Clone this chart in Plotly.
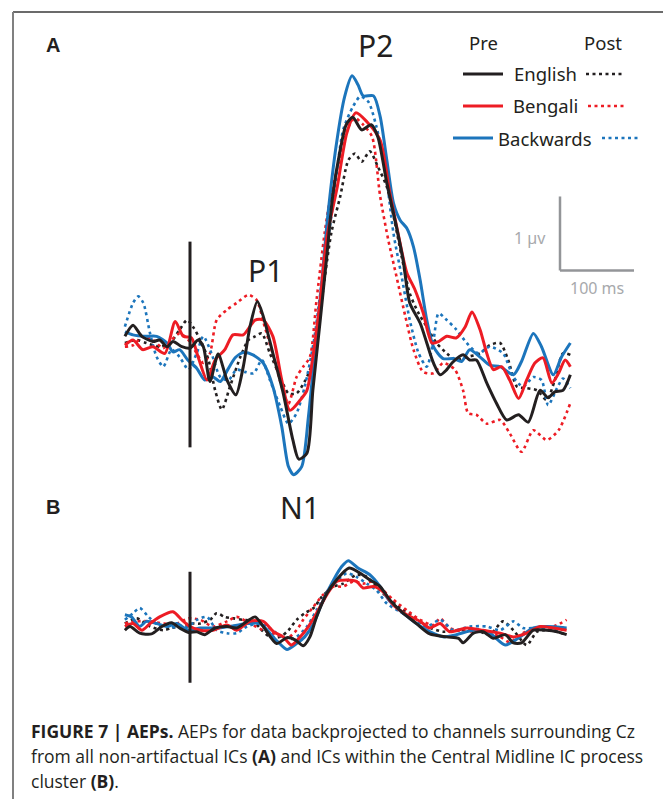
import plotly.graph_objects as go

# ---------------- DATA (time in ms, amplitude in microvolts) ----------------
# Panel A : all non-artifactual ICs
en_pre_a_t = [-88,-77,-65,-50,-41,-31,-23,-11,0,11,18,27,38,50,62,72,81,91,99,112,126,139,147,158,166,176,185,193,203,211,220,232,245,254,266,279,288,297,311,320,329,338,347,355,369,378,387,401,414,428,444,457,473,484,493,504,514]
en_pre_a_v = [0.09,0.24,0.09,0.02,0.04,-0.05,0.02,-0.05,-0.07,0.04,-0.05,-0.52,-0.15,-0.50,-0.70,-0.32,0.22,0.56,0.36,-0.14,-0.68,-1.31,-1.57,-1.49,-0.64,0.31,1.19,2.00,2.61,2.95,3.05,2.88,2.95,2.78,2.16,1.57,1.12,0.54,0.27,0.00,-0.27,-0.43,-0.36,-0.26,-0.16,-0.23,-0.23,-0.54,-0.81,-1.04,-0.97,-1.07,-0.64,-0.74,-0.66,-0.64,-0.43]

bn_pre_a_t = [-88,-77,-64,-50,-34,-20,-9,2,11,23,34,47,58,72,88,99,112,124,135,149,158,166,176,185,199,212,224,239,257,270,281,293,304,315,327,336,347,360,372,381,392,401,410,421,432,444,455,466,477,489,498,507,514]
bn_pre_a_v = [-0.03,0.04,-0.09,-0.05,-0.14,0.29,0.09,0.07,-0.19,-0.50,-0.23,-0.09,0.11,0.11,0.31,0.31,0.09,-0.50,-0.91,-0.77,-0.64,-0.19,0.58,1.43,2.11,2.84,3.11,2.99,2.74,2.03,1.49,0.95,0.72,0.41,0.00,0.02,0.09,0.07,0.22,0.42,0.18,-0.14,-0.36,-0.32,-0.50,-0.75,-0.50,-0.27,-0.20,-0.54,-0.41,-0.23,-0.32]

bw_pre_a_t = [-88,-77,-61,-45,-31,-23,-14,-3,9,20,31,41,51,61,72,85,99,112,124,133,140,151,160,169,178,186,198,209,219,227,234,248,257,266,275,284,293,302,311,320,329,342,356,367,378,392,405,419,437,448,464,475,491,502,514]
bw_pre_a_v = [0.15,0.11,0.09,0.09,0.00,-0.12,-0.09,-0.23,-0.34,-0.50,-0.46,-0.52,-0.36,-0.20,-0.13,-0.16,-0.27,-0.59,-1.13,-1.67,-1.78,-1.67,-1.00,-0.09,0.81,1.70,2.70,3.33,3.61,3.49,3.34,3.34,3.06,2.47,1.89,1.66,1.55,1.30,0.85,0.31,-0.05,-0.21,-0.21,-0.25,-0.09,-0.19,-0.30,-0.32,-0.43,-0.25,0.13,-0.05,-0.43,-0.19,0.00]

en_post_a_t = [-88,-72,-59,-41,-27,-14,-4,4,14,25,34,43,54,68,79,88,97,108,122,133,144,155,167,178,191,203,214,223,232,243,254,266,277,286,297,309,320,333,347,360,374,392,405,419,430,442,455,469,482,493,504,514]
en_post_a_v = [0.00,0.04,0.00,-0.05,0.00,0.18,0.31,0.22,0.04,-0.23,-0.64,-0.90,-0.59,-0.19,0.04,0.09,0.13,-0.14,-0.46,-0.68,-0.68,-0.52,-0.23,0.58,1.49,1.98,2.47,2.56,2.45,2.59,2.38,2.11,1.62,1.17,0.67,0.40,0.22,0.00,-0.14,-0.23,-0.19,-0.14,-0.03,0.00,-0.23,-0.59,-0.61,-0.64,-0.77,-0.50,-0.14,-0.16]

bn_post_a_t = [-88,-77,-63,-50,-36,-25,-14,-2,9,18,27,36,50,63,79,90,101,113,124,133,144,153,162,171,182,189,203,214,223,234,246,257,268,279,291,302,315,329,342,358,369,376,387,401,419,432,448,464,482,498,514]
bn_post_a_v = [-0.05,-0.03,0.09,0.04,-0.07,0.04,0.13,0.04,-0.14,-0.27,-0.14,0.31,0.45,0.54,0.65,0.58,0.22,-0.19,-0.59,-0.82,-0.46,-0.32,-0.19,0.58,1.49,1.93,2.52,2.92,3.04,2.95,2.79,1.98,1.39,0.90,0.36,-0.09,-0.39,-0.41,-0.27,-0.36,-0.64,-0.95,-0.97,-1.09,-1.04,-1.22,-1.47,-1.18,-1.31,-1.18,-0.81]

bw_post_a_t = [-88,-77,-70,-63,-54,-45,-36,-25,-14,-2,9,18,29,41,52,63,74,86,97,108,122,133,144,155,167,178,191,207,220,230,241,252,264,275,286,297,309,320,329,336,347,360,374,390,405,423,437,450,464,475,484,496,504,514]
bw_post_a_v = [0.22,0.54,0.63,0.54,0.13,-0.19,-0.32,-0.09,-0.19,-0.36,-0.14,0.09,-0.14,-0.46,-0.50,-0.36,-0.39,-0.41,-0.23,-0.50,-0.86,-1.09,-0.95,-0.59,0.00,0.81,1.71,2.88,3.19,3.33,3.26,2.92,2.34,1.48,0.90,0.31,-0.14,-0.32,0.04,0.40,0.31,0.18,0.00,-0.14,-0.05,-0.14,-0.46,-0.59,-0.46,-0.50,-0.84,-0.61,-0.48,-0.61]

# Panel B : Central Midline IC process cluster
en_pre_b_t = [-88,-81,-68,-52,-38,-25,-14,-2,9,20,34,50,63,77,88,99,117,131,142,153,162,171,185,198,215,230,243,257,270,288,306,324,347,363,369,383,396,410,426,437,448,464,482,496,509]
en_pre_b_v = [-0.03,0.02,-0.07,-0.08,0.02,0.07,0.00,-0.06,-0.05,-0.09,0.00,0.02,0.00,0.09,0.15,0.02,-0.21,-0.13,-0.16,-0.24,-0.12,0.15,0.47,0.65,0.81,0.74,0.65,0.56,0.38,0.20,0.06,-0.08,-0.12,-0.14,-0.20,-0.07,-0.05,-0.14,-0.09,-0.20,-0.20,-0.03,-0.03,-0.05,-0.09]

bn_pre_b_t = [-88,-77,-65,-54,-41,-23,-11,0,14,31,50,63,81,99,113,126,137,149,160,171,185,198,212,225,234,248,261,275,293,311,324,338,351,374,396,419,437,455,473,491,509]
bn_pre_b_v = [0.02,0.06,-0.03,0.06,0.15,0.22,0.11,0.02,-0.03,-0.03,0.04,-0.03,0.09,0.09,-0.05,-0.12,-0.23,-0.12,0.02,0.20,0.45,0.63,0.65,0.63,0.54,0.56,0.49,0.31,0.18,0.09,0.00,0.06,-0.05,0.00,-0.03,-0.07,-0.12,-0.07,0.02,0.00,-0.03]

bw_pre_b_t = [-88,-79,-68,-59,-45,-31,-18,-2,14,36,59,77,95,108,119,131,144,155,167,178,194,205,214,227,243,257,270,288,306,324,342,360,383,405,426,446,464,482,509]
bw_pre_b_v = [0.18,0.15,0.02,0.09,0.06,0.02,0.06,-0.03,0.00,0.00,0.03,0.06,0.06,-0.07,-0.19,-0.29,-0.21,-0.12,0.06,0.33,0.65,0.83,0.91,0.81,0.72,0.56,0.36,0.20,0.06,-0.05,-0.12,-0.09,-0.03,-0.07,-0.23,-0.12,0.00,0.02,0.00]

en_post_b_t = [-88,-72,-54,-36,-25,-14,0,14,27,36,47,59,72,86,97,108,122,133,144,155,167,178,194,207,225,239,252,266,284,302,320,342,365,387,405,423,437,455,469,486,509]
en_post_b_v = [0.06,0.13,0.02,-0.03,0.00,0.02,0.06,0.06,0.11,0.20,0.15,0.13,0.11,0.09,-0.03,-0.12,-0.12,-0.03,0.11,0.20,0.27,0.42,0.56,0.60,0.72,0.69,0.56,0.42,0.27,0.15,0.02,-0.05,-0.03,-0.03,-0.09,0.09,-0.03,-0.23,-0.05,-0.03,-0.09]

bn_post_b_t = [-88,-72,-54,-36,-18,-2,14,31,50,63,81,99,117,131,144,153,167,180,194,207,221,234,248,261,275,293,311,329,338,351,374,396,419,432,450,469,491,509]
bn_post_b_v = [0.06,0.09,0.09,0.06,0.06,0.13,0.11,0.02,0.09,0.15,0.06,-0.03,-0.09,-0.14,-0.03,0.11,0.29,0.45,0.56,0.56,0.63,0.60,0.63,0.51,0.38,0.24,0.11,0.04,0.13,0.00,-0.05,-0.03,-0.12,-0.19,-0.07,0.00,0.02,0.11]

bw_post_b_t = [-88,-77,-68,-56,-43,-27,-14,-2,9,23,36,50,63,77,90,104,117,131,144,158,171,185,198,212,225,239,252,266,284,302,320,338,356,378,401,419,437,450,469,486,509]
bw_post_b_v = [0.11,0.20,0.27,0.15,0.04,0.02,0.00,0.02,0.11,0.15,-0.03,-0.07,-0.07,0.02,0.06,0.02,-0.07,-0.16,-0.12,0.02,0.24,0.47,0.63,0.74,0.69,0.60,0.51,0.33,0.22,0.11,0.02,0.11,-0.03,0.02,0.02,-0.03,0.09,0.00,0.00,-0.03,0.02]

conditions = ["English", "Bengali", "Backwards"]
colors = {"English": "#231f20", "Bengali": "#ed1c24", "Backwards": "#1c75bc"}

panel_a = {
    ("English", "pre"): (en_pre_a_t, en_pre_a_v),
    ("Bengali", "pre"): (bn_pre_a_t, bn_pre_a_v),
    ("Backwards", "pre"): (bw_pre_a_t, bw_pre_a_v),
    ("English", "post"): (en_post_a_t, en_post_a_v),
    ("Bengali", "post"): (bn_post_a_t, bn_post_a_v),
    ("Backwards", "post"): (bw_post_a_t, bw_post_a_v),
}
panel_b = {
    ("English", "pre"): (en_pre_b_t, en_pre_b_v),
    ("Bengali", "pre"): (bn_pre_b_t, bn_pre_b_v),
    ("Backwards", "pre"): (bw_pre_b_t, bw_pre_b_v),
    ("English", "post"): (en_post_b_t, en_post_b_v),
    ("Bengali", "post"): (bn_post_b_t, bn_post_b_v),
    ("Backwards", "post"): (bw_post_b_t, bw_post_b_v),
}

# Scale bar values (data units)
scale_ms = 100
scale_uv = 1

# page has an 8px body margin: the figure occupies 663x791 starting at (8, 8)
OFF = 8
W, H = 671 - OFF, 799 - OFF
def px(x): return (x - OFF) / W
def py(y): return 1 - (y - OFF) / H

fig = go.Figure()

draw_order = [("English", "post"), ("Bengali", "post"), ("Backwards", "post"),
              ("Backwards", "pre"), ("Bengali", "pre"), ("English", "pre")]

for panel, yax in ((panel_a, "y"), (panel_b, "y2")):
    for key in draw_order:
        cond, phase = key
        t, v = panel[key]
        fig.add_trace(go.Scatter(
            x=t, y=v, mode="lines", yaxis=yax, showlegend=False,
            line=dict(color=colors[cond], width=3 if phase == "pre" else 2.6,
                      dash="solid" if phase == "pre" else "3px,3.5px",
                      shape="spline", smoothing=0.7),
            hoverinfo="skip"))

# Stimulus onset lines
fig.add_shape(type="line", xref="x", yref="y", x0=0, x1=0, y0=-1.41, y1=1.37,
              line=dict(color="#231f20", width=3))
fig.add_shape(type="line", xref="x", yref="y2", x0=0, x1=0, y0=-0.74, y1=0.76,
              line=dict(color="#231f20", width=3))

# Scale bar
sx0, sy0 = 500, 0.98
fig.add_shape(type="line", xref="x", yref="y", x0=sx0, x1=sx0, y0=sy0, y1=sy0 + scale_uv,
              line=dict(color="#939598", width=2.5))
fig.add_shape(type="line", xref="x", yref="y", x0=sx0, x1=sx0 + scale_ms, y0=sy0, y1=sy0,
              line=dict(color="#939598", width=2.5))

ann = []
ann.append(dict(x=px(548), y=py(238), xref="paper", yref="paper", text="1 µv",
                showarrow=False, xanchor="right", yanchor="middle",
                font=dict(family="Noto Sans", size=16, color="#a7a9ac")))
ann.append(dict(x=px(597), y=py(288), xref="paper", yref="paper", text="100 ms",
                showarrow=False, xanchor="center", yanchor="middle",
                font=dict(family="Noto Sans", size=16, color="#a7a9ac")))

# Component labels
for txt, x, y in (("P1", 265, 270), ("P2", 375, 46), ("N1", 300, 507)):
    ann.append(dict(x=px(x), y=py(y), xref="paper", yref="paper", text=txt,
                    showarrow=False, xanchor="center", yanchor="middle",
                    font=dict(family="Noto Sans", size=30, color="#231f20")))

# Panel letters
for txt, x, y in (("A", 53, 45), ("B", 53, 507)):
    ann.append(dict(x=px(x), y=py(y), xref="paper", yref="paper", text="<b>" + txt + "</b>",
                    showarrow=False, xanchor="center", yanchor="middle",
                    font=dict(family="Liberation Sans", size=20, color="#231f20")))

# Legend (drawn manually: Pre solid | name | Post dotted)
ann.append(dict(x=px(483), y=py(43), xref="paper", yref="paper", text="Pre", showarrow=False,
                xanchor="center", yanchor="middle",
                font=dict(family="Noto Sans", size=18.5, color="#231f20")))
ann.append(dict(x=px(603), y=py(43), xref="paper", yref="paper", text="Post", showarrow=False,
                xanchor="center", yanchor="middle",
                font=dict(family="Noto Sans", size=18.5, color="#231f20")))
leg_rows = [("English", 74, 463, 503, 586, 623),
            ("Bengali", 106, 463, 503, 588, 627),
            ("Backwards", 138, 453, 493, 602, 639)]
for name, yy, s0, s1, d0, d1 in leg_rows:
    fig.add_shape(type="line", xref="paper", yref="paper", x0=px(s0), x1=px(s1),
                  y0=py(yy), y1=py(yy), line=dict(color=colors[name], width=3))
    fig.add_shape(type="line", xref="paper", yref="paper", x0=px(d0), x1=px(d1),
                  y0=py(yy), y1=py(yy), line=dict(color=colors[name], width=2.6, dash="3px,3.5px"))
    ann.append(dict(x=px(545), y=py(yy), xref="paper", yref="paper", text=name, showarrow=False,
                    xanchor="center", yanchor="middle",
                    font=dict(family="Noto Sans", size=18.5, color="#231f20")))

# Frame
fig.add_shape(type="line", xref="paper", yref="paper", x0=px(13), x1=px(667), y0=py(12), y1=py(12),
              line=dict(color="#3a3a3a", width=1.5))
fig.add_shape(type="line", xref="paper", yref="paper", x0=px(667), x1=px(667), y0=py(12), y1=0,
              line=dict(color="#3a3a3a", width=1.5))
fig.add_shape(type="line", xref="paper", yref="paper", x0=px(13), x1=px(13), y0=py(12), y1=0,
              line=dict(color="#808080", width=2))

# Caption
cap_font = dict(family="Open Sans", size=17.5, color="#231f20")
caption = ["<b>FIGURE 7 | AEPs.</b> AEPs for data backprojected to channels surrounding Cz",
           "from all non-artifactual ICs <b>(A)</b> and ICs within the Central Midline IC process",
           "cluster <b>(B)</b>."]
for i, line in enumerate(caption):
    ann.append(dict(x=px(29), y=py(731 + 25 * i), xref="paper", yref="paper", text=line,
                    showarrow=False, xanchor="left", yanchor="middle", font=cap_font))

fig.update_layout(
    width=W, height=H, autosize=False,
    margin=dict(l=0, r=0, t=0, b=0),
    paper_bgcolor="white", plot_bgcolor="white",
    xaxis=dict(range=[(OFF - 190) * 100 / 74, (671 - 190) * 100 / 74], visible=False, domain=[0, 1]),
    yaxis=dict(range=[(343 - 799) / 74, (343 - OFF) / 74], visible=False, domain=[0, 1]),
    yaxis2=dict(range=[(628 - 799) / 74, (628 - OFF) / 74], visible=False, overlaying="y"),
    annotations=ann,
)

fig.write_html("out.html")
